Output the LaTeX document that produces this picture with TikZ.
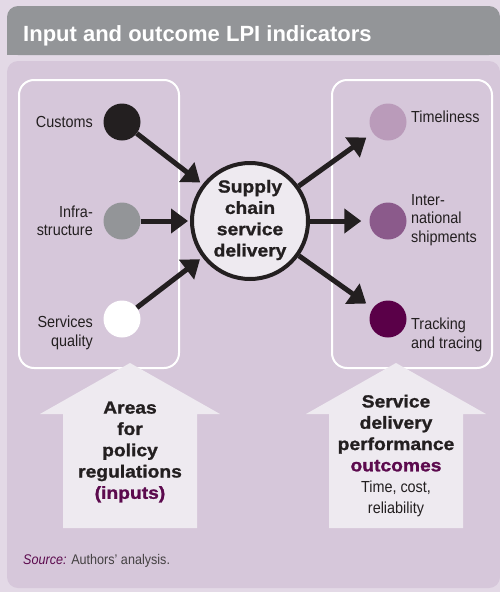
\documentclass[tikz,border=0pt]{standalone}
\usepackage{fontspec}
\setmainfont{Liberation Sans}
\newfontfamily\condfont[FakeStretch=0.9]{Liberation Sans}
\newfontfamily\widefont[FakeStretch=1.1, BoldFeatures={FakeBold=1.2}]{Liberation Sans}
\usepackage{tikz}
\usetikzlibrary{arrows.meta}

\definecolor{pagebg}{HTML}{E3D9E6}
\definecolor{panelbg}{HTML}{D6C7DA}
\definecolor{headgrey}{HTML}{939598}
\definecolor{ink}{HTML}{231F20}
\definecolor{paleblock}{HTML}{EEEAF0}
\definecolor{plum}{HTML}{5C0A4E}
\definecolor{lilac}{HTML}{BA9BBA}
\definecolor{mauve}{HTML}{8B5A8B}
\definecolor{aubergine}{HTML}{5A0048}

\tikzset{
    dot/.style={circle, inner sep=0pt, minimum size=37pt},
    lbl/.style={font=\condfont\fontsize{16}{18.5}\selectfont, text=ink, inner sep=0pt},
    bigtext/.style={font=\widefont\bfseries\fontsize{17.5}{21.3}\selectfont, text=ink, align=center, inner sep=0pt},
    flow/.style={draw=ink, line width=5pt, -{Triangle[length=17pt,width=24pt]}},
}

\begin{document}
\begin{tikzpicture}[x=1pt, y=-1pt]
    % background and panel
    \fill[pagebg] (0,0) rectangle (500,592);
    \useasboundingbox (0,0) rectangle (500,592);
    \fill[headgrey, rounded corners=11pt] (7,6) rectangle (500,55);
    \fill[headgrey] (7,30) rectangle (500,55);
    \fill[panelbg, rounded corners=11pt] (7,61) rectangle (500,588);
    \node[anchor=base west, inner sep=0pt, text=white, font=\bfseries\fontsize{22}{26}\selectfont]
        (title) at (23,41) {Input and outcome LPI indicators};

    % the two groups
    \draw[white, line width=2pt, rounded corners=15pt] (19,80) rectangle (179,368);
    \draw[white, line width=2pt, rounded corners=15pt] (332,80) rectangle (492,368);

    \draw[every node/.style={dot}]
        (122,122) node[fill=ink] (customs){}
        (122,221) node[fill=headgrey] (infra){}
        (122,319) node[fill=white] (services){}
        (388,122) node[fill=lilac] (timely){}
        (388,221) node[fill=mauve] (intl){}
        (388,319) node[fill=aubergine] (tracking){};

    \node[circle, draw=ink, line width=4pt, fill=paleblock, minimum size=116pt, inner sep=0pt] (hub) at (250,221) {};
    \node[bigtext] (hubtext) at (250,220) {Supply\\chain\\service\\delivery};

    \node[lbl, anchor=east] (customslbl) at (93,122) {Customs};
    \node[lbl, anchor=east, align=right] (infralbl) at (93,221) {Infra-\\structure};
    \node[lbl, anchor=east, align=right] (serviceslbl) at (93,333) {Services\\quality};
    \node[lbl, anchor=west] (timelylbl) at (411,117) {Timeliness};
    \node[lbl, anchor=west, align=left] (intllbl) at (411,220) {Inter-\\national\\shipments};
    \node[lbl, anchor=west, align=left] (trackinglbl) at (411,335) {Tracking\\and tracing};

    \begin{scope}[flow]
        \draw[shorten >=3pt] (customs) to (hub);
        \draw[shorten >=2pt] (infra) to (hub);
        \draw[shorten >=3pt] (services) to (hub);
        \draw[shorten >=8pt] (hub) to (timely);
        \draw[shorten >=8pt] (hub) to (intl);
        \draw[shorten >=8pt] (hub) to (tracking);
    \end{scope}

    % block arrows
    \fill[paleblock] (63,528) -- (63,414) -- (40,414) -- (130,363) -- (220,414) -- (197,414) -- (197,528) -- cycle;
    \fill[paleblock] (329,528) -- (329,414) -- (306,414) -- (396,363) -- (486,414) -- (463,414) -- (463,528) -- cycle;
    \node[bigtext] (inputs) at (130,452) {Areas\\for\\policy\\regulations\\\textcolor{plum}{(inputs)}};
    \node[bigtext] (outcomes) at (396,456) {Service\\delivery\\performance\\\textcolor{plum}{outcomes}\\
        {\condfont\mdseries\fontsize{16}{21.3}\selectfont Time, cost,}\\
        {\condfont\mdseries\fontsize{16}{21.3}\selectfont reliability}};

    \node[anchor=base west, inner sep=0pt, font=\condfont\fontsize{14}{17}\selectfont, text=ink!85]
        (source) at (23,564) {\textcolor{plum}{\itshape Source:} Authors’ analysis.};
\end{tikzpicture}
\end{document}
